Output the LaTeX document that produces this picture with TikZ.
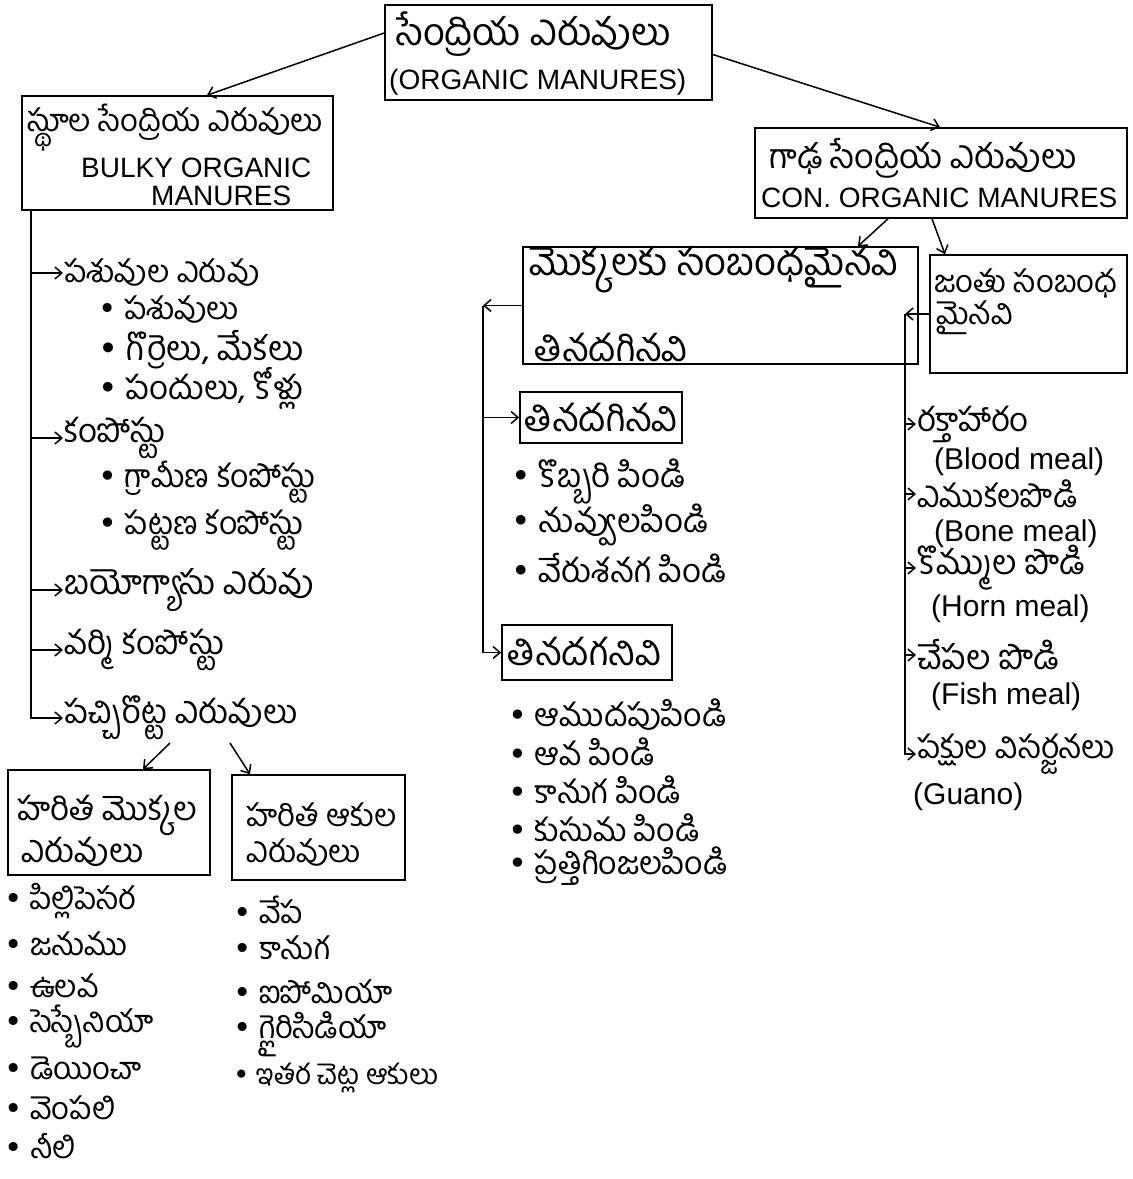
\documentclass[tikz,border=0pt]{standalone}
\usepackage{fontspec}
\usetikzlibrary{arrows.meta}
\newfontfamily\te[Script=Telugu]{Hind Guntur}
\newfontfamily\en{Liberation Sans}
\newfontfamily\sym{DejaVu Sans}
\newcommand\bul{{\sym •}\ }
\tikzset{
  box/.style={draw, line width=1.6pt, inner sep=0pt, fill=none},
  tt/.style={anchor=west, inner sep=1pt, font={\te\fontsize{31}{33}\selectfont}},
  fs/.style={font={\te\fontsize{#1}{#1}\selectfont}},
  en/.style={anchor=west, inner sep=1pt, font={\en\fontsize{28}{30}\selectfont}},
  ens/.style={anchor=west, inner sep=1pt, font={\en\fontsize{30}{32}\selectfont}},
  arr/.style={line width=1.5pt, -{Straight Barb[length=7pt,width=12pt]}},
}
\begin{document}
\begin{tikzpicture}[x=1pt,y=-1pt]
\fill[white] (0,0) rectangle (1133,1179);
\useasboundingbox (0,0) rectangle (1133,1179);
% boxes
\node[box, minimum width=327pt, minimum height=95pt] (top) at (548.5,52.5) {};
\node[box, minimum width=311pt, minimum height=114pt] (left) at (177.5,153) {};
\node[box, minimum width=372pt, minimum height=90pt] (right) at (941,173) {};
\node[box, minimum width=395pt, minimum height=117pt] (mid) at (720.5,305.5) {};
\node[box, minimum width=197pt, minimum height=118pt] (rsmall) at (1028.5,314) {};
\node[box, minimum width=162pt, minimum height=51pt] (eat) at (601,417.5) {};
\node[box, minimum width=170pt, minimum height=55pt] (noeat) at (587,652.5) {};
\node[box, minimum width=202pt, minimum height=105pt] (hl) at (109,822.5) {};
\node[box, minimum width=173pt, minimum height=105pt] (hr) at (318.5,827.5) {};
% box texts
\node[tt, fs=38] (t1) at (395,34) {సేంద్రియ ఎరువులు};
\node[en] (t2) at (388,82) {(ORGANIC MANURES)};
\node[tt, fs=31] (b1) at (26,128) {స్థూల సేంద్రియ ఎరువులు};
\node[en] (b2) at (80,168) {BULKY ORGANIC};
\node[en] (b3) at (150,196) {MANURES};
\node[tt, fs=34] (r1) at (768,158) {గాఢ సేంద్రియ ఎరువులు};
\node[en] (r2) at (760,198) {CON. ORGANIC MANURES};
\node[tt, fs=38] (m1) at (528,270) {మొక్కలకు సంబంధమైనవి};
\node[tt, fs=37] (m2) at (533,348) {తినదగినవి};
\node[tt] (s1) at (933,283) {జంతు సంబంధ};
\node[tt] (s2) at (935,318) {మైనవి};
\node[tt, fs=37] (e0) at (523,418) {తినదగినవి};
\node[tt, fs=37] (n0) at (506,652) {తినదగనివి};
\node[tt, fs=33] (h1) at (16,815) {హరిత మొక్కల};
\node[tt, fs=33] (h2) at (20,852) {ఎరువులు};
\node[tt] (k1) at (245,815) {హరిత ఆకుల};
\node[tt] (k2) at (245,853) {ఎరువులు};
% left column
\node[tt] (l1) at (63,273) {పశువుల ఎరువు};
\node[tt] (l1a) at (97,310) {\bul పశువులు};
\node[tt, fs=34] (l1b) at (97,350) {\bul గొర్రెలు, మేకలు};
\node[tt, fs=33] (l1c) at (97,388) {\bul పందులు, కోళ్లు};
\node[tt, fs=33] (l2) at (63,438) {కంపోస్టు};
\node[tt, fs=32] (l2a) at (97,482) {\bul గ్రామీణ కంపోస్టు};
\node[tt, fs=32] (l2b) at (97,530) {\bul పట్టణ కంపోస్టు};
\node[tt, fs=34] (l3) at (63,590) {బయోగ్యాసు ఎరువు};
\node[tt, fs=33] (l4) at (63,650) {వర్మి కంపోస్టు};
\node[tt, fs=33] (l5) at (63,718) {పచ్చిరొట్ట ఎరువులు};
% bottom lists
\node[tt] (p1) at (3,901) {\bul పిల్లిపెసర};
\node[tt] (p2) at (3,944) {\bul జనుము};
\node[tt] (p3) at (3,986) {\bul ఉలవ};
\node[tt] (p4) at (3,1027) {\bul సెస్బేనియా};
\node[tt] (p5) at (3,1068) {\bul డెయించా};
\node[tt] (p6) at (3,1108) {\bul వెంపలి};
\node[tt] (p7) at (3,1146) {\bul నీలి};
\node[tt] (q1) at (232,910) {\bul వేప};
\node[tt] (q2) at (232,948) {\bul కానుగ};
\node[tt] (q3) at (232,992) {\bul ఐపోమియా};
\node[tt] (q4) at (232,1034) {\bul గ్లైరిసిడియా};
\node[tt, fs=28] (q5) at (232,1078) {\bul ఇతర చెట్ల ఆకులు};
% middle lists
\node[tt, fs=33] (e1) at (510,482) {\bul కొబ్బరి పిండి};
\node[tt, fs=33] (e2) at (510,525) {\bul నువ్వులపిండి};
\node[tt, fs=33] (e3) at (510,568) {\bul వేరుశనగ పిండి};
\node[tt, fs=32] (n1) at (507,715) {\bul ఆముదపుపిండి};
\node[tt, fs=32] (n2) at (507,752) {\bul ఆవ పిండి};
\node[tt, fs=32] (n3) at (507,790) {\bul కానుగ పిండి};
\node[tt, fs=32] (n4) at (507,828) {\bul కుసుమ పిండి};
\node[tt, fs=32] (n5) at (507,866) {\bul ప్రత్తిగింజలపిండి};
% right list
\node[tt, fs=33] (g1) at (916,424) {రక్తాహారం};
\node[ens] (g1e) at (933,462) {(Blood meal)};
\node[tt, fs=32] (g2) at (916,494) {ఎముకలపొడి};
\node[ens] (g2e) at (933,534) {(Bone meal)};
\node[tt, fs=34] (g3) at (916,568) {కొమ్ముల పొడి};
\node[ens] (g3e) at (930,609) {(Horn meal)};
\node[tt, fs=34] (g4) at (916,655) {చేపల పొడి};
\node[ens] (g4e) at (930,697) {(Fish meal)};
\node[tt, fs=32] (g5) at (916,754) {పక్షుల విసర్జనలు};
\node[ens] (g5e) at (912,797) {(Guano)};
% connectors top level
\draw[arr] ([yshift=19.5pt]top.west) -- ([xshift=29.5pt]left.north);
\draw[arr] ([yshift=-2pt]top.east) -- ([xshift=-1pt]right.north);
\draw[arr] ([xshift=-53pt]right.south) -- ([xshift=137.5pt]mid.north);
\draw[arr] ([xshift=-9pt]right.south) -- ([xshift=-83.5pt]rsmall.north);
% left column
\coordinate (lc) at (31,210);
\draw[arr] (lc) |- (l5.west);
\foreach \n in {l1,l2,l3,l4} \draw[arr] (lc |- \n.west) -- (\n.west);
% bottom arrows
\coordinate (bA) at (170,743);
\coordinate (bB) at (230,743);
\draw[arr] (bA) -- ([xshift=34pt]hl.north);
\draw[arr] (bB) -- ([xshift=-68.5pt]hr.north);
% middle column
\coordinate (mc) at (483,305.5);
\draw[arr] (mid.west) -- (mc);
\draw[arr] (mc) |- (noeat.west);
\draw[arr] (mc |- eat.west) -- (eat.west);
% right column
\coordinate (rc) at (905,314);
\draw[arr] (rsmall.west) -- (rc);
\draw[arr] (rc) |- (g5.west);
\foreach \n in {g1,g2,g3,g4} \draw[arr] (rc |- \n.west) -- (\n.west);
\end{tikzpicture}
\end{document}
